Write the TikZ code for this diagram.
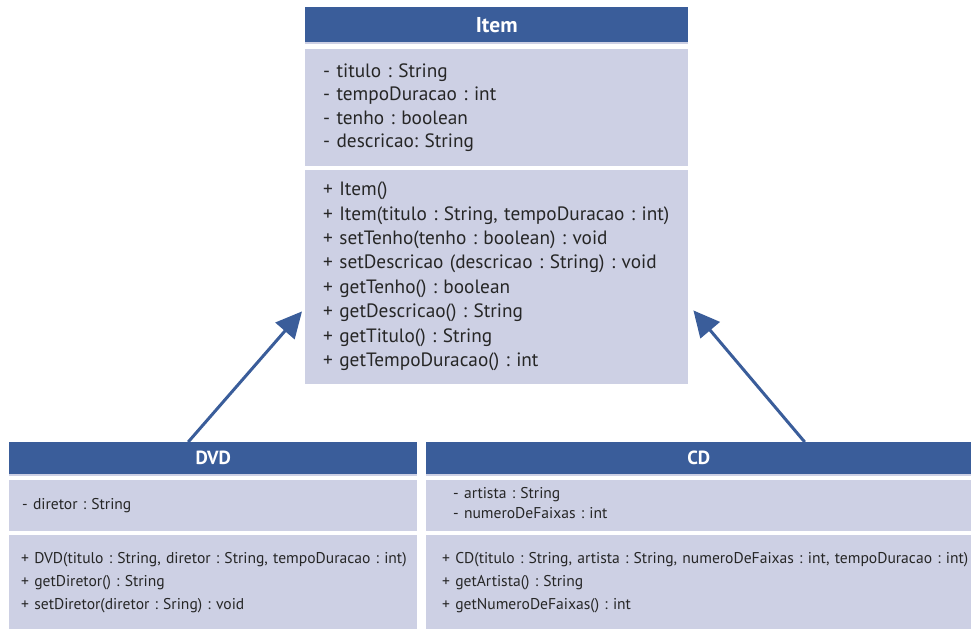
\documentclass[tikz,border=0pt]{standalone}
\usepackage{fontspec}
\setmainfont{PT Sans}
\frenchspacing
\usetikzlibrary{positioning,arrows.meta,calc}

\definecolor{umlblue}{RGB}{58,93,154}
\definecolor{umllav}{RGB}{205,208,228}
\definecolor{umltext}{RGB}{38,38,38}

% extra depth under the last line of a box
\newcommand{\lowpad}{\rule[-6pt]{0pt}{1pt}}

\tikzset{
  classhead/.style={fill=umlblue, text=white, anchor=north west, inner sep=0pt,
    font=\bfseries\fontsize{19}{22}\selectfont},
  classbody/.style={fill=umllav, text=umltext, anchor=north west, align=left, inner ysep=0pt},
  inherits/.style={umlblue, line width=3pt, -{Triangle[length=26pt,width=25pt]}}
}

\begin{document}
\begin{tikzpicture}[x=1pt,y=-1pt]
  \useasboundingbox (0,0) rectangle (972,629);

  % class Item
  \node[classhead, minimum width=383pt, minimum height=35pt,
        font=\bfseries\fontsize{21.5}{24}\selectfont] (itemhead) at (305,7) {Item};
  \fill[umllav] (itemhead.south west) rectangle ++(383,2);
  \node[classbody, minimum width=383pt, minimum height=117pt, inner xsep=18pt, text width=347pt,
        font=\fontsize{19.3}{23.3}\selectfont] (itemattr) at (305,49)
    {- titulo : String\\- tempoDuracao : int\\- tenho : boolean\\- descricao: String};
  \node[classbody, minimum width=383pt, minimum height=214pt, inner xsep=18pt, text width=347pt,
        font=\fontsize{19.3}{24.4}\selectfont] (itemops) at (305,170)
    {+ Item()\\
     \mbox{+ Item(titulo : String, tempoDuracao : int)}\\
     + setTenho(tenho : boolean) : void\\
     + setDescricao (descricao : String) : void\\
     + getTenho() : boolean\\
     + getDescricao() : String\\
     + getTitulo() : String\\
     + getTempoDuracao() : int\lowpad};

  % class DVD
  \node[classhead, minimum width=408pt, minimum height=32pt] (dvdhead) at (9,442) {DVD};
  \fill[umllav] (dvdhead.south west) rectangle ++(408,2);
  \node[classbody, minimum width=408pt, minimum height=51pt, inner xsep=13pt, text width=382pt,
        font=\fontsize{15.6}{23}\selectfont] (dvdattr) at (9,480)
    {- diretor : String};
  \node[classbody, minimum width=408pt, minimum height=94pt, inner xsep=12pt, text width=384pt,
        font=\fontsize{15.6}{23}\selectfont] (dvdops) at (9,535)
    {\mbox{+ DVD(titulo : String, diretor : String, tempoDuracao : int)}\\
     + getDiretor() : String\\
     + setDiretor(diretor : Sring) : void};

  % class CD
  \node[classhead, minimum width=545pt, minimum height=32pt] (cdhead) at (426,442) {CD};
  \fill[umllav] (cdhead.south west) rectangle ++(545,2);
  \node[classbody, minimum width=545pt, minimum height=51pt, inner xsep=27pt, text width=491pt,
        font=\fontsize{15.6}{19.5}\selectfont] (cdattr) at (426,480)
    {- artista : String\\- numeroDeFaixas : int\lowpad};
  \node[classbody, minimum width=545pt, minimum height=94pt, inner xsep=16pt, text width=513pt,
        font=\fontsize{15.6}{23}\selectfont] (cdops) at (426,535)
    {\mbox{+ CD(titulo : String, artista : String, numeroDeFaixas : int, tempoDuracao : int)}\\
     + getArtista() : String\\
     + getNumeroDeFaixas() : int};

  % generalisation arrows
  \draw[inherits] ([xshift=-25pt]dvdhead.north) -- ([xshift=-3pt,yshift=73pt]itemops.south west);
  \draw[inherits] ([xshift=106pt]cdhead.north) -- ([xshift=5pt,yshift=74pt]itemops.south east);
\end{tikzpicture}
\end{document}
